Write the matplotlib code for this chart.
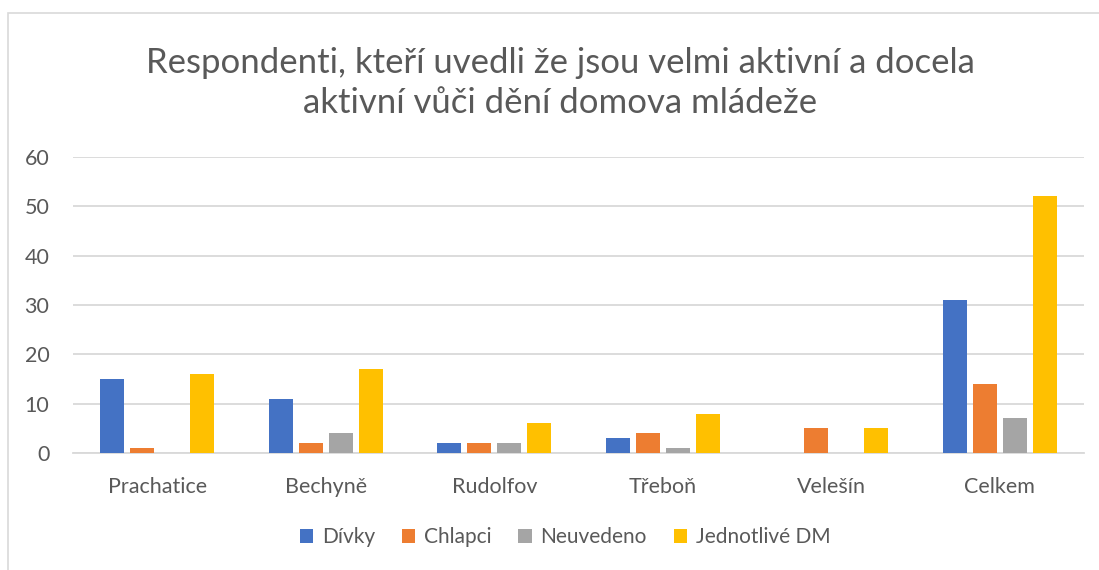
import numpy as np
import matplotlib.pyplot as plt
from matplotlib.patches import Rectangle

plt.rcParams['font.family'] = ['Lato', 'DejaVu Sans']

categories = ['Prachatice', 'Bechyně', 'Rudolfov', 'Třeboň', 'Velešín', 'Celkem']
series_names = ['Dívky', 'Chlapci', 'Neuvedeno', 'Jednotlivé DM']
divky = [15, 11, 2, 3, 0, 31]
chlapci = [1, 2, 2, 4, 5, 14]
neuvedeno = [0, 4, 2, 1, 0, 7]
jednotlive_dm = [16, 17, 6, 8, 5, 52]
colors = ['#4472C4', '#ED7D31', '#A5A5A5', '#FFC000']

text_col = '#595959'
grid_col = '#D9D9D9'

fig = plt.figure(figsize=(10.99, 5.70), dpi=100)
ax = fig.add_axes([73 / 1099, 1 - 453 / 570, 1011 / 1099, 296 / 570])

# chart border (cut off at right and bottom like in the original)
fig.patches.append(Rectangle((8 / 1099, -0.1), 1.1, 1.1 - 13 / 570,
                             transform=fig.transFigure, fill=False,
                             edgecolor=grid_col, linewidth=1.2))

x = np.arange(len(categories))
bw = 0.142
step = 0.178
for i, (vals, name) in enumerate(zip([divky, chlapci, neuvedeno, jednotlive_dm], series_names)):
    ax.bar(x + (i - 1.5) * step, vals, width=bw, color=colors[i], label=name, zorder=3)

ax.set_xlim(-0.5, len(categories) - 0.5)
ax.set_ylim(0, 60)
ax.set_yticks(range(0, 61, 10))
ax.set_xticks(x)
ax.set_xticklabels(categories)
ax.yaxis.grid(True, color=grid_col, linewidth=1.3, zorder=0)
ax.tick_params(axis='both', length=0, labelsize=15.5, colors=text_col)
ax.tick_params(axis='x', pad=17)
ax.tick_params(axis='y', pad=17)
for s in ['top', 'right', 'left']:
    ax.spines[s].set_visible(False)
ax.spines['bottom'].set_color(grid_col)
ax.spines['bottom'].set_linewidth(1.3)

fig.text(560 / 1099, 1 - 83 / 570,
         'Respondenti, kteří uvedli že jsou velmi aktivní a docela\naktivní vůči dění domova mládeže',
         ha='center', va='center', fontsize=25, color=text_col, linespacing=1.33)

fig.legend(loc='center', bbox_to_anchor=(565 / 1099, 1 - 537 / 570), ncol=4, frameon=False,
           fontsize=15, labelcolor=text_col, handlelength=0.65, handleheight=0.65,
           handletextpad=0.4, columnspacing=1.3)

fig.savefig('out.png', dpi=100)
